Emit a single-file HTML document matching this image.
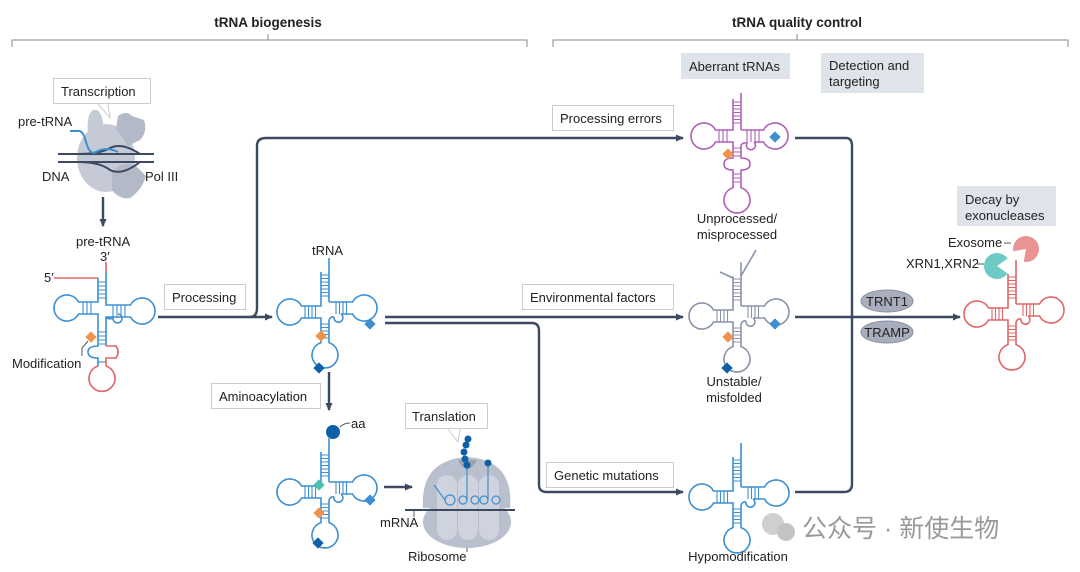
<!DOCTYPE html>
<html><head><meta charset="utf-8"><style>
html,body{margin:0;padding:0;background:#fff}
svg{display:block}
text{font-family:"Liberation Sans","Noto Sans CJK SC",sans-serif;font-size:13px;fill:#222}
</style></head><body>
<svg width="1080" height="572" viewBox="0 0 1080 572" xmlns="http://www.w3.org/2000/svg">
<defs>
<marker id="ah" markerWidth="8" markerHeight="8" refX="7" refY="4" orient="auto" markerUnits="userSpaceOnUse">
<path d="M0,0.5 L8,4 L0,7.5 Z" fill="#3b4a60"/></marker>
<g id="t">
<path d="M-4,-40 V-6 H-23.5 A13 13 0 1 0 -23.5,6 H-4 V30.6 A13 13 0 1 0 4,30.6 V8 M4,-10 V-54 M4,-10 H27.5 A13 13 0 1 1 27.5,2 H16 M4,8 Q6,4 9,5" fill="none" stroke="currentColor" stroke-width="1.6"/>
<path d="M9,5 A4.5 4.5 0 1 0 16,2" fill="none" stroke="currentColor" stroke-width="1.6"/>
<path d="M-4,-37H4M-4,-33.5H4M-4,-30H4M-4,-26.5H4M-4,-23H4M-4,-19.5H4M-4,-16H4M-20,-6V6M-16.5,-6V6M-13,-6V6M-9.5,-6V6M11,-10V2M14.5,-10V2M18,-10V2M21.5,-10V2M-4,12H4M-4,15.5H4M-4,19H4M-4,22.5H4M-4,26H4" stroke="currentColor" stroke-width="1.1"/>
</g>
</defs>

<!-- headers -->
<text x="268" y="27" text-anchor="middle" font-weight="bold" style="font-size:13.5px">tRNA biogenesis</text>
<text x="797" y="27" text-anchor="middle" font-weight="bold" style="font-size:13.5px">tRNA quality control</text>
<path d="M12,47V40H527V47M268,40V34M553,47V40H1068V47M797,40V34" fill="none" stroke="#888" stroke-width="1"/>

<!-- connectors -->
<g fill="none" stroke="#3b4a60" stroke-width="2.4">
<path d="M103,197V226" marker-end="url(#ah)"/>
<path d="M158,317H272" marker-end="url(#ah)"/>
<path d="M250,317Q257,317 257,308V146Q257,138 266,138H683" marker-end="url(#ah)"/>
<path d="M385,317H683" marker-end="url(#ah)"/>
<path d="M385,323H532Q539,323 539,331V485Q539,492 547,492H683" marker-end="url(#ah)"/>
<path d="M329,372V410" marker-end="url(#ah)"/>
<path d="M384,487H412" marker-end="url(#ah)"/>
<path d="M795,138H846Q852,138 852,146V484Q852,492 844,492H795"/>
<path d="M795,317H960" marker-end="url(#ah)"/>
</g>

<!-- Pol III -->
<g fill="#c5cad6">
<ellipse cx="106" cy="158" rx="29" ry="34"/>
<path d="M88,135 Q86,112 94,110 Q102,108 104,130 Z"/>
<path d="M116,128 L118,116 Q126,110 132,116 L144,120 Q148,132 140,140 L128,146 Z" fill="#b3b9c7"/>
<path d="M112,172 Q122,160 136,166 L146,176 Q142,190 130,198 Q120,200 112,190 Z" fill="#b3b9c7"/>
</g>
<path d="M58,154H154M58,162H154" stroke="#3b4a60" stroke-width="2"/>
<path d="M78,154 Q100,154 110,148 Q122,142 140,154" fill="none" stroke="#3b4a60" stroke-width="2"/>
<path d="M78,162 Q100,162 110,170 Q122,176 140,162" fill="none" stroke="#3b4a60" stroke-width="2"/>
<path d="M70,131 H80 Q84,133 86,142 Q90,156 96,152 Q106,146 118,152" fill="none" stroke="#3d8fd1" stroke-width="2"/>
<text x="18" y="126">pre-tRNA</text>
<text x="42" y="181">DNA</text>
<text x="145" y="181">Pol III</text>
<rect x="53.5" y="78.5" width="97" height="25" fill="#fff" stroke="#ccc"/>
<path d="M98,104 L110,118 L108,104" fill="#fff" stroke="#ccc"/>
<text x="61" y="96">Transcription</text>

<!-- pre-tRNA -->
<text x="76" y="246">pre-tRNA</text>
<text x="100" y="261">3′</text>
<text x="44" y="282">5′</text>
<path d="M54,278H98M106,262V272" stroke="#e06666" stroke-width="1.6" fill="none"/>
<path d="M98,278 V302 H78.5 A13 13 0 1 0 78.5,314 H98 V328 M106,328 V317 H130.5 A13 13 0 1 0 130.5,305 H106 V272 M106,317 Q109,320 113,318 A4.5 4.5 0 1 0 118,314" fill="none" stroke="#3d8fd1" stroke-width="1.6"/>
<path d="M98,282H106M98,286H106M98,290H106M98,294H106M98,298H106M83,302V314M87,302V314M91,302V314M113,305V317M117,305V317M121,305V317M125,305V317M98,332H106M98,336H106M98,340H106M98,344H106" stroke="#3d8fd1" stroke-width="1.1"/>
<path d="M98,328V346 Q88,346 88,352 Q88,358 98,358 V366 M106,328 V346" fill="none" stroke="#3d8fd1" stroke-width="1.6"/>
<path d="M106,346 H116 Q120,352 116,358 H106 V366 M98,366 A13 13 0 1 0 106,366" fill="none" stroke="#e06666" stroke-width="1.6"/>
<path d="M98,362H106" stroke="#3d8fd1" stroke-width="1.1"/>
<rect x="87" y="333" width="8" height="8" fill="#f0934a" transform="rotate(45 91 337)"/>
<path d="M88,341 L82,348 V356" stroke="#555" fill="none"/>
<text x="12" y="368">Modification</text>
<rect x="164.5" y="284.5" width="81" height="25" fill="#fff" stroke="#ccc"/>
<text x="172" y="302">Processing</text>

<!-- tRNA -->
<text x="312" y="255">tRNA</text>
<use href="#t" x="325" y="312" style="color:#3d8fd1"/>
<rect x="317" y="332" width="8" height="8" fill="#f0934a" transform="rotate(45 321 336)"/>
<rect x="366" y="320" width="8" height="8" fill="#3d8fd1" transform="rotate(45 370 324)"/>
<rect x="315" y="364" width="8" height="8" fill="#1060a8" transform="rotate(45 319 368)"/>
<rect x="211.5" y="383.5" width="109" height="25" fill="#fff" stroke="#ccc"/>
<text x="219" y="401">Aminoacylation</text>

<!-- aa tRNA -->
<use href="#t" x="325" y="492" style="color:#3d8fd1"/>
<circle cx="333" cy="432" r="7" fill="#1060a8"/>
<path d="M340,427 Q344,423 350,423" stroke="#555" fill="none"/>
<text x="351" y="428">aa</text>
<rect x="315" y="481" width="8" height="8" fill="#4bbfb0" transform="rotate(45 319 485)"/>
<rect x="315" y="509" width="8" height="8" fill="#f0934a" transform="rotate(45 319 513)"/>
<rect x="366" y="496" width="8" height="8" fill="#3d8fd1" transform="rotate(45 370 500)"/>
<rect x="314" y="539" width="8" height="8" fill="#1060a8" transform="rotate(45 318 543)"/>

<!-- ribosome -->
<ellipse cx="467" cy="522" rx="44" ry="26" fill="#b9bfcc"/>
<path d="M423,508 Q420,460 467,457 Q514,460 510,508 Z" fill="#b9bfcc"/>
<path d="M458,460 Q467,478 477,460" fill="#9aa1b0"/>
<rect x="437" y="475" width="20" height="65" rx="10" fill="#cfd3dd"/>
<rect x="458" y="475" width="20" height="65" rx="10" fill="#cfd3dd"/>
<rect x="479" y="475" width="20" height="65" rx="10" fill="#cfd3dd"/>
<path d="M434,485 L445,500 M467,465V500 M488,465V500" stroke="#3d8fd1" stroke-width="1.2" fill="none"/>
<circle cx="450" cy="500" r="5" fill="none" stroke="#3d8fd1" stroke-width="1.2"/>
<circle cx="463" cy="500" r="4" fill="none" stroke="#3d8fd1" stroke-width="1.2"/>
<circle cx="475" cy="500" r="4" fill="none" stroke="#3d8fd1" stroke-width="1.2"/>
<circle cx="484" cy="500" r="4" fill="none" stroke="#3d8fd1" stroke-width="1.2"/>
<circle cx="496" cy="500" r="4" fill="none" stroke="#3d8fd1" stroke-width="1.2"/>
<circle cx="467" cy="465" r="3.5" fill="#1060a8"/><circle cx="465" cy="459" r="3.5" fill="#1060a8"/>
<circle cx="464" cy="452" r="3.5" fill="#1060a8"/><circle cx="466" cy="445" r="3.5" fill="#1060a8"/><circle cx="468" cy="439" r="3.5" fill="#1060a8"/>
<circle cx="488" cy="463" r="3.5" fill="#1060a8"/>
<path d="M405,510H515" stroke="#3b4a60" stroke-width="2"/>
<path d="M414,510V517M467,548V552" stroke="#555"/>
<text x="380" y="527">mRNA</text>
<text x="408" y="561">Ribosome</text>
<rect x="405.5" y="403.5" width="82" height="25" fill="#fff" stroke="#ccc"/>
<path d="M448,429 L458,442 L460,429" fill="#fff" stroke="#ccc"/>
<text x="412" y="421">Translation</text>

<!-- labels on connectors -->
<rect x="552.5" y="105.5" width="121" height="25" fill="#fff" stroke="#ccc"/>
<text x="560" y="123">Processing errors</text>
<rect x="522.5" y="284.5" width="151" height="25" fill="#fff" stroke="#ccc"/>
<text x="530" y="302">Environmental factors</text>
<rect x="546.5" y="462.5" width="127" height="25" fill="#fff" stroke="#ccc"/>
<text x="554" y="480">Genetic mutations</text>

<!-- aberrant -->
<rect x="681" y="53" width="109" height="26" fill="#dfe3ea"/>
<text x="689" y="71">Aberrant tRNAs</text>
<rect x="821" y="53" width="103" height="40" fill="#dfe3ea"/>
<text x="829" y="70">Detection and</text>
<text x="829" y="86">targeting</text>

<!-- purple -->
<g style="color:#b05fb8">
<path d="M733,99 V130 H715.5 A13 13 0 1 0 715.5,142 H733 V158 Q724,158 724,164 Q724,170 733,170 V187.6 A13 13 0 1 0 741,187.6 V170 Q750,170 750,164 Q750,158 741,158 V145 M741,130 V93 M741,130 H763.5 A13 13 0 1 1 763.5,142 H754 M741,145 Q744,142 747,143 A4.5 4.5 0 1 0 754,142" fill="none" stroke="currentColor" stroke-width="1.6"/>
<path d="M733,102H741M733,105.5H741M733,109H741M733,112.5H741M733,116H741M733,119.5H741M733,123H741M719,130V142M723,130V142M727,130V142M747,130V142M751,130V142M755,130V142M759,130V142M733,148H741M733,152H741M733,156H741M733,174H741M733,178H741M733,182H741" stroke="currentColor" stroke-width="1.1"/>
</g>
<rect x="724" y="150" width="8" height="8" fill="#f0934a" transform="rotate(45 728 154)"/>
<rect x="771" y="133" width="8" height="8" fill="#3d8fd1" transform="rotate(45 775 137)"/>
<text x="737" y="223" text-anchor="middle">Unprocessed/</text>
<text x="737" y="239" text-anchor="middle">misprocessed</text>

<!-- grey -->
<use href="#t" x="737" y="316" style="color:#8b93a8"/>
<path d="M741,262 L756,252 M733,276 L720,268" stroke="#fff" stroke-width="4"/>
<path d="M741,276 L756,250 M733,278 L720,272" stroke="#8b93a8" stroke-width="1.6" fill="none"/>
<rect x="724" y="333" width="8" height="8" fill="#f0934a" transform="rotate(45 728 337)"/>
<rect x="771" y="320" width="8" height="8" fill="#3d8fd1" transform="rotate(45 775 324)"/>
<rect x="723" y="364" width="8" height="8" fill="#1060a8" transform="rotate(45 727 368)"/>
<text x="734" y="386" text-anchor="middle">Unstable/</text>
<text x="734" y="402" text-anchor="middle">misfolded</text>

<!-- hypo -->
<use href="#t" x="737" y="497" style="color:#3d8fd1"/>
<text x="738" y="561" text-anchor="middle">Hypomodification</text>

<!-- TRNT1 / TRAMP -->
<ellipse cx="887" cy="301" rx="26" ry="11" fill="#a9aebd" stroke="#8a90a0"/>
<text x="887" y="306" text-anchor="middle">TRNT1</text>
<ellipse cx="887" cy="332" rx="26" ry="11" fill="#a9aebd" stroke="#8a90a0"/>
<text x="887" y="337" text-anchor="middle">TRAMP</text>

<!-- decay -->
<rect x="957" y="186" width="99" height="40" fill="#dfe3ea"/>
<text x="965" y="204">Decay by</text>
<text x="965" y="220">exonucleases</text>
<use href="#t" x="1012" y="314" style="color:#e06666"/>
<path d="M1026,249 L1023.7,261.8 A13 13 0 1 0 1013.2,251.3 Z" fill="#e89494"/>
<path d="M997,266 L1007.6,258.5 A13 13 0 1 0 1007.6,273.5 Z" fill="#6dcac4"/>
<text x="948" y="247">Exosome</text>
<path d="M1004,243H1011" stroke="#555"/>
<text x="906" y="268">XRN1,XRN2</text>
<path d="M977,264H984" stroke="#555"/>

<!-- watermark -->
<circle cx="773" cy="524" r="11" fill="#cfcfcf"/><circle cx="786" cy="532" r="9" fill="#c4c4c4"/>
<text x="802" y="537" style="font-size:25px;fill:#999">公众号 · 新使生物</text>
</svg>
</body></html>
